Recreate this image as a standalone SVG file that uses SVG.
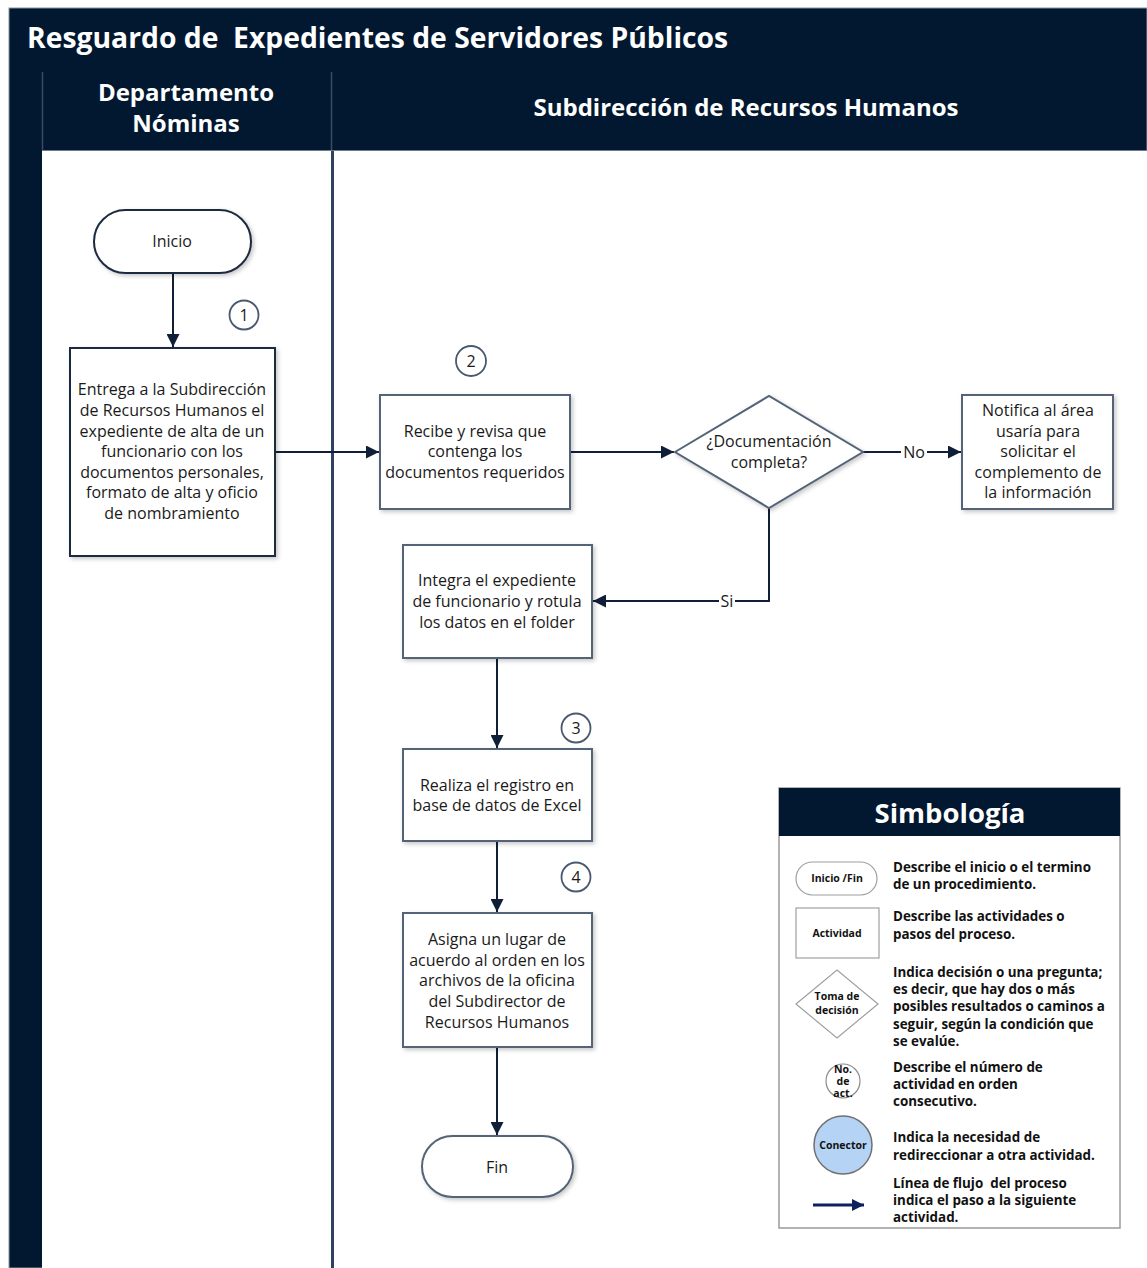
<svg xmlns="http://www.w3.org/2000/svg" width="1147" height="1268" viewBox="0 0 1147 1268">
<style>
.hd{font-family:"Open Sans","Noto Sans",sans-serif;font-weight:bold;fill:#ffffff;text-anchor:middle}
.tx{font-family:"Open Sans","Noto Sans",sans-serif;font-size:16px;fill:#1a1a1a;text-anchor:middle}
.box{fill:#ffffff;stroke:#556478;stroke-width:2}
.term{fill:#ffffff;stroke:#1e2b40;stroke-width:2}
.num{fill:#ffffff;stroke:#4a5870;stroke-width:1.8}
.ln{fill:none;stroke:#0f1f38;stroke-width:2}
.lg{font-family:"Open Sans","Noto Sans",sans-serif;font-weight:bold;font-size:13.4px;fill:#111111}
.lgs{font-family:"Open Sans","Noto Sans",sans-serif;font-weight:bold;font-size:10.5px;fill:#111111;text-anchor:middle}
.pre{white-space:pre}
</style>
<defs>
<marker id="ah2" viewBox="0 0 10 10" refX="10" refY="5" markerWidth="13" markerHeight="13" markerUnits="userSpaceOnUse" orient="auto">
<path d="M0,0 L10,5 L0,10 z" fill="#0f1f38"/>
</marker>
<marker id="ahl" viewBox="0 0 10 10" refX="10" refY="5" markerWidth="4" markerHeight="4" orient="auto">
<path d="M0,0 L10,5 L0,10 z" fill="#0d2060"/>
</marker>
<filter id="sh" x="-10%" y="-10%" width="130%" height="130%">
<feDropShadow dx="2" dy="2" stdDeviation="2" flood-color="#000000" flood-opacity="0.22"/>
</filter>
</defs>
<rect width="1147" height="1268" fill="#ffffff"/>
<g id="frame">
<rect x="9" y="8" width="1138" height="1260" fill="#011830" stroke="#8a93a0" stroke-width="1"/>
<rect x="42" y="150" width="289" height="1118" fill="#ffffff"/>
<rect x="334" y="150" width="813" height="1118" fill="#ffffff"/>
<line x1="42.5" y1="72" x2="42.5" y2="150" stroke="#3a4a62" stroke-width="1.5"/>
<line x1="331.5" y1="72" x2="331.5" y2="150" stroke="#3a4a62" stroke-width="1.5"/>
<rect x="331" y="150" width="3" height="1118" fill="#2f4260"/>
<line x1="42" y1="150.5" x2="1147" y2="150.5" stroke="#6f7a8a" stroke-width="1"/>
<text class="hd pre" x="27" y="48" font-size="28.3" style="text-anchor:start" xml:space="preserve">Resguardo de  Expedientes de Servidores Públicos</text>
<text class="hd" x="186" y="101" font-size="24">Departamento</text>
<text class="hd" x="186" y="132" font-size="24">Nóminas</text>
<text class="hd" x="746" y="116" font-size="24">Subdirección de Recursos Humanos</text>
</g>
<g id="connectors">
<line class="ln" x1="173" y1="273" x2="173" y2="347" marker-end="url(#ah2)"/>
<line class="ln" x1="275" y1="452" x2="379" y2="452" marker-end="url(#ah2)"/>
<line class="ln" x1="570" y1="452" x2="674" y2="452" marker-end="url(#ah2)"/>
<polyline class="ln" points="863,452 961,452" marker-end="url(#ah2)"/>
<polyline class="ln" points="769,508 769,601 593,601" marker-end="url(#ah2)"/>
<line class="ln" x1="497" y1="658" x2="497" y2="748" marker-end="url(#ah2)"/>
<line class="ln" x1="497" y1="841" x2="497" y2="912" marker-end="url(#ah2)"/>
<line class="ln" x1="497" y1="1047" x2="497" y2="1135" marker-end="url(#ah2)"/>
<rect x="901" y="444" width="26" height="16" fill="#ffffff"/>
<text class="tx" x="914" y="458">No</text>
<rect x="719" y="593" width="16" height="16" fill="#ffffff"/>
<text class="tx" x="727" y="607">Si</text>
</g>
<g id="inicio">
<rect class="term" x="94" y="210" width="157" height="63" rx="31.5" filter="url(#sh)"/>
<text class="tx" x="172" y="247">Inicio</text>
</g>
<g id="n1">
<circle class="num" cx="244" cy="315" r="14.5"/>
<text class="tx" x="244" y="321">1</text>
</g>
<g id="act1">
<rect class="box" x="70" y="348" width="205" height="208" filter="url(#sh)" style="stroke:#1e2b40"/>
<text class="tx"><tspan x="172" y="395">Entrega a la Subdirección</tspan><tspan x="172" y="416">de Recursos Humanos el</tspan><tspan x="172" y="437">expediente de alta de un</tspan><tspan x="172" y="457">funcionario con los</tspan><tspan x="172" y="478">documentos personales,</tspan><tspan x="172" y="498">formato de alta y oficio</tspan><tspan x="172" y="519">de nombramiento</tspan></text>
</g>
<g id="n2">
<circle class="num" cx="471" cy="361" r="15"/>
<text class="tx" x="471" y="367">2</text>
</g>
<g id="act2">
<rect class="box" x="380" y="395" width="190" height="114" filter="url(#sh)"/>
<text class="tx"><tspan x="475" y="437">Recibe y revisa que</tspan><tspan x="475" y="457">contenga los</tspan><tspan x="475" y="478">documentos requeridos</tspan></text>
</g>
<g id="decision">
<polygon class="box" points="675,452 769,396 863,452 769,508" filter="url(#sh)"/>
<text class="tx"><tspan x="769" y="447">¿Documentación</tspan><tspan x="769" y="468">completa?</tspan></text>
</g>
<g id="notifica">
<rect class="box" x="962" y="395" width="151" height="114" filter="url(#sh)"/>
<text class="tx"><tspan x="1038" y="416">Notifica al área</tspan><tspan x="1038" y="437">usaría para</tspan><tspan x="1038" y="457">solicitar el</tspan><tspan x="1038" y="478">complemento de</tspan><tspan x="1038" y="498">la información</tspan></text>
</g>
<g id="act3">
<rect class="box" x="403" y="545" width="189" height="113" filter="url(#sh)"/>
<text class="tx"><tspan x="497" y="586">Integra el expediente</tspan><tspan x="497" y="607">de funcionario y rotula</tspan><tspan x="497" y="628">los datos en el folder</tspan></text>
</g>
<g id="n3">
<circle class="num" cx="576" cy="728" r="14.5"/>
<text class="tx" x="576" y="734">3</text>
</g>
<g id="act4">
<rect class="box" x="403" y="749" width="189" height="92" filter="url(#sh)"/>
<text class="tx"><tspan x="497" y="791">Realiza el registro en</tspan><tspan x="497" y="811">base de datos de Excel</tspan></text>
</g>
<g id="n4">
<circle class="num" cx="576" cy="877" r="14.5"/>
<text class="tx" x="576" y="883">4</text>
</g>
<g id="act5">
<rect class="box" x="403" y="913" width="189" height="134" filter="url(#sh)"/>
<text class="tx"><tspan x="497" y="945">Asigna un lugar de</tspan><tspan x="497" y="966">acuerdo al orden en los</tspan><tspan x="497" y="986">archivos de la oficina</tspan><tspan x="497" y="1007">del Subdirector de</tspan><tspan x="497" y="1028">Recursos Humanos</tspan></text>
</g>
<g id="fin">
<rect class="box" x="422" y="1136" width="151" height="61" rx="30.5" filter="url(#sh)"/>
<text class="tx" x="497" y="1173">Fin</text>
</g>
<g id="legend">
<rect x="779" y="788" width="341" height="440" fill="#ffffff" stroke="#9a9a9a" stroke-width="1.5"/>
<rect x="779" y="788" width="341" height="48" fill="#011830"/>
<text class="hd" x="950" y="823" font-size="27.5">Simbología</text>
<rect x="796" y="862" width="81" height="33" rx="16.5" fill="#ffffff" stroke="#a0a0a0" stroke-width="1.2"/>
<text class="lgs" x="837" y="882">Inicio /Fin</text>
<rect x="796" y="908" width="83" height="50" fill="#ffffff" stroke="#a0a0a0" stroke-width="1.2"/>
<text class="lgs" x="837" y="937">Actividad</text>
<polygon points="796,1004 837,970 878,1004 837,1038" fill="#ffffff" stroke="#a0a0a0" stroke-width="1.2"/>
<text class="lgs"><tspan x="837" y="1000">Toma de</tspan><tspan x="837" y="1014">decisión</tspan></text>
<circle cx="843" cy="1081" r="17" fill="#ffffff" stroke="#8a8a8a" stroke-width="1.2"/>
<text class="lgs" font-size="9.5"><tspan x="843" y="1073">No.</tspan><tspan x="843" y="1085">de</tspan><tspan x="843" y="1097">act.</tspan></text>
<circle cx="843" cy="1145" r="29" fill="#b4d3f5" stroke="#707070" stroke-width="1.5"/>
<text class="lgs" x="843" y="1149">Conector</text>
<line x1="813" y1="1205" x2="864" y2="1205" stroke="#0d2060" stroke-width="3" marker-end="url(#ahl)"/>
<text class="lg"><tspan x="893" y="872">Describe el inicio o el termino</tspan><tspan x="893" y="889">de un procedimiento.</tspan></text>
<text class="lg"><tspan x="893" y="921">Describe las actividades o</tspan><tspan x="893" y="939">pasos del proceso.</tspan></text>
<text class="lg"><tspan x="893" y="977">Indica decisión o una pregunta;</tspan><tspan x="893" y="994">es decir, que hay dos o más</tspan><tspan x="893" y="1011">posibles resultados o caminos a</tspan><tspan x="893" y="1029">seguir, según la condición que</tspan><tspan x="893" y="1046">se evalúe.</tspan></text>
<text class="lg"><tspan x="893" y="1072">Describe el número de</tspan><tspan x="893" y="1089">actividad en orden</tspan><tspan x="893" y="1106">consecutivo.</tspan></text>
<text class="lg"><tspan x="893" y="1142">Indica la necesidad de</tspan><tspan x="893" y="1160">redireccionar a otra actividad.</tspan></text>
<text class="lg pre" xml:space="preserve"><tspan x="893" y="1188">Línea de flujo  del proceso</tspan><tspan x="893" y="1205">indica el paso a la siguiente</tspan><tspan x="893" y="1222">actividad.</tspan></text>
</g>
</svg>
